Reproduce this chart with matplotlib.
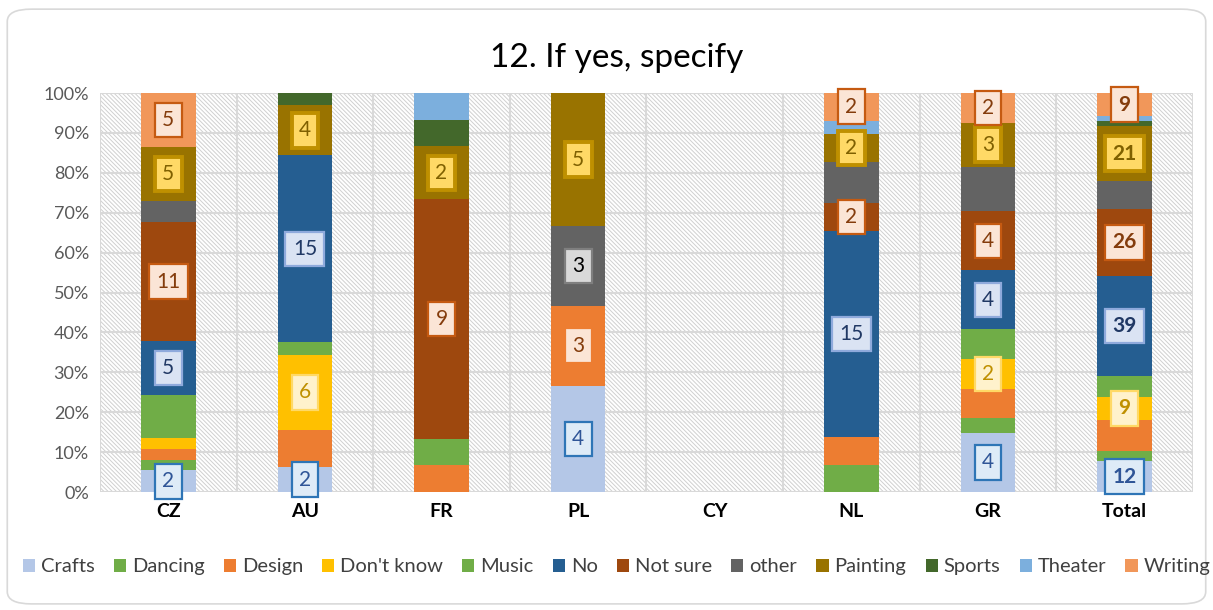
import numpy as np
import matplotlib.pyplot as plt
from matplotlib.patches import Rectangle, FancyBboxPatch

plt.rcParams['font.family'] = ['Lato', 'DejaVu Sans']
plt.rcParams['hatch.linewidth'] = 0.7

countries = ["CZ", "AU", "FR", "PL", "CY", "NL", "GR", "Total"]
series = ["Crafts", "Dancing", "Design", "Don't know", "Music", "No", "Not sure",
          "other", "Painting", "Sports", "Theater", "Writing"]

# counts per series, one value per country (same order as countries)
crafts    = [2, 2, 0, 4, 0, 0, 4, 12]
dancing   = [1, 0, 0, 0, 0, 2, 1, 4]
design    = [1, 3, 1, 3, 0, 2, 2, 12]
dont_know = [1, 6, 0, 0, 0, 0, 2, 9]
music     = [4, 1, 1, 0, 0, 0, 2, 8]
no        = [5, 15, 0, 0, 0, 15, 4, 39]
not_sure  = [11, 0, 9, 0, 0, 2, 4, 26]
other     = [2, 0, 0, 3, 0, 3, 3, 11]
painting  = [5, 4, 2, 5, 0, 2, 3, 21]
sports    = [0, 1, 1, 0, 0, 0, 0, 2]
theater   = [0, 0, 1, 0, 0, 1, 0, 2]
writing   = [5, 0, 0, 0, 0, 2, 2, 9]

colors = ["#B4C7E7", "#70AD47", "#ED7D31", "#FFC000", "#70AD47", "#255E91",
          "#9E480E", "#636363", "#997300", "#43682B", "#7CAFDD", "#F1975A"]

# which segments carry a data label
labelled = ["Crafts", "Don't know", "No", "Not sure", "Painting", "Writing"]
extra_labels = [("PL", "Design"), ("PL", "other")]
no_labels = [("CZ", "Don't know")]

# label box styles: face, edge, text colour, edge width
label_style = {
    "Crafts":     ("#DEEBF7", "#2E75B6", "#2F5597", 1.6),
    "Don't know": ("#FFF2CC", "#FFD966", "#BF9000", 1.6),
    "No":         ("#DAE3F3", "#8FAADC", "#203864", 1.6),
    "Not sure":   ("#FBE5D6", "#C55A11", "#843C0C", 1.6),
    "Painting":   ("#FFD966", "#BF9000", "#7F6000", 2.8),
    "Writing":    ("#FBE5D6", "#C55A11", "#843C0C", 1.6),
    "Design":     ("#FBE5D6", "#ED7D31", "#843C0C", 1.6),
    "other":      ("#D9D9D9", "#7F7F7F", "#000000", 1.6),
}

data = np.array([crafts, dancing, design, dont_know, music, no, not_sure,
                 other, painting, sports, theater, writing], dtype=float)
totals = data.sum(axis=0)
pct = np.divide(data, totals, out=np.zeros_like(data), where=totals > 0) * 100

fig = plt.figure(figsize=(12.13, 6.10), dpi=100)
fig.patches.append(FancyBboxPatch((0.006, 0.01), 0.988, 0.975, boxstyle="round,pad=0,rounding_size=0.02",
                                  transform=fig.transFigure, facecolor="white",
                                  edgecolor="#D9D9D9", linewidth=1.2, zorder=-1))
ax = fig.add_axes([0.0824, 0.1934, 0.9011, 0.6541])
ax.set_facecolor("none")

x = np.arange(len(countries))
ax.add_patch(Rectangle((0, 0), 1, 1, transform=ax.transAxes, facecolor="white",
                       edgecolor="#D0D0D0", hatch="\\\\\\\\\\\\\\\\", linewidth=0, zorder=0))

bottom = np.zeros(len(countries))
for i, name in enumerate(series):
    ax.bar(x, pct[i], 0.4, bottom=bottom, color=colors[i], label=name, zorder=3)
    for j, c in enumerate(countries):
        if data[i, j] == 0 or (c, name) in no_labels:
            continue
        if name in labelled or (c, name) in extra_labels:
            fc, ec, tc, lw = label_style[name]
            bold = c == "Total"
            ax.text(j, bottom[j] + pct[i, j] / 2, str(int(data[i, j])),
                    ha="center", va="center", fontsize=15, color=tc, zorder=5,
                    fontweight="bold" if bold else "normal",
                    bbox=dict(boxstyle="square,pad=0.35", fc=fc, ec=ec, lw=lw))
    bottom += pct[i]

ax.set_xlim(-0.5, len(countries) - 0.5)
ax.set_ylim(0, 100)
ax.set_yticks(np.arange(0, 101, 10))
ax.set_yticklabels([f"{v}%" for v in range(0, 101, 10)], fontsize=13, color="#595959")
ax.set_xticks(x)
ax.set_xticklabels(countries, fontsize=14, fontweight="bold", color="#000000")
ax.tick_params(length=0, pad=8)
for yv in range(0, 101, 10):
    ax.axhline(yv, color="#D9D9D9", lw=1.5, zorder=1)
for xv in np.arange(-0.5, len(countries), 1):
    ax.axvline(xv, color="#D9D9D9", lw=1.5, zorder=1)
for s in ax.spines.values():
    s.set_visible(False)

fig.text(0.508, 0.905, "12. If yes, specify", ha="center", va="center", fontsize=24, color="#000000")

ax.legend(loc="upper left", bbox_to_anchor=(0.012, 0.098), bbox_transform=fig.transFigure,
          ncol=12, frameon=False, fontsize=14.5, handlelength=0.6, handleheight=0.6,
          handletextpad=0.3, columnspacing=0.95, labelcolor="#404040", borderaxespad=0)

fig.savefig("out.png", dpi=100)
